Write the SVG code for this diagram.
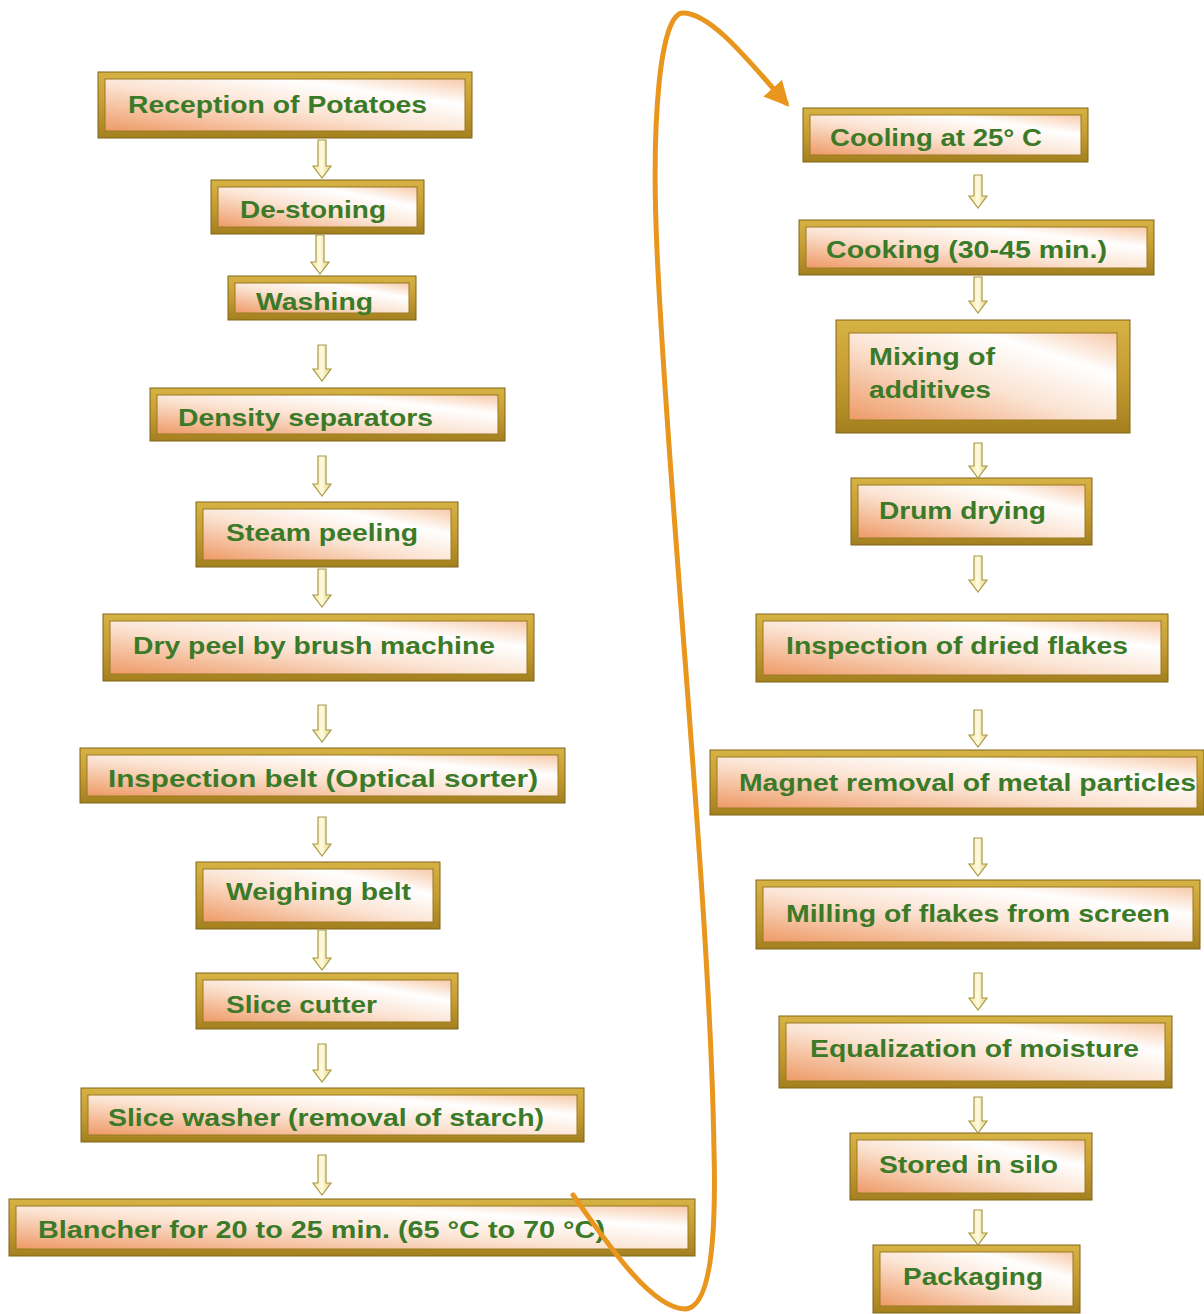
<svg xmlns="http://www.w3.org/2000/svg" xmlns:xlink="http://www.w3.org/1999/xlink" width="1204" height="1314" viewBox="0 0 1204 1314">
<style>
.frame{fill:url(#gold);stroke:#7E6418;stroke-width:1}
.inner{fill:url(#peach);stroke:#9A7A22;stroke-width:1}
.lbl{font-family:"Liberation Sans",Arial,sans-serif;font-weight:bold;font-size:24px;fill:#3A7A28}
.arr{fill:url(#arrfill);stroke:#A89A48;stroke-width:1.2}
.loop{fill:none;stroke:#E8961E;stroke-width:5;stroke-linecap:round}
</style>
<defs>
<linearGradient id="gold" x1="0" y1="0" x2="0" y2="1">
<stop offset="0" stop-color="#D6B244"/>
<stop offset="0.5" stop-color="#C69C32"/>
<stop offset="1" stop-color="#A3801F"/>
</linearGradient>
<linearGradient id="peach" x1="0" y1="1" x2="1" y2="0">
<stop offset="0" stop-color="#EE9A66"/>
<stop offset="0.45" stop-color="#FBE3D2"/>
<stop offset="0.75" stop-color="#FFFFFF"/>
<stop offset="1" stop-color="#F7C9A8"/>
</linearGradient>
<linearGradient id="arrfill" x1="0" y1="0" x2="1" y2="0">
<stop offset="0" stop-color="#F3E7A0"/>
<stop offset="0.5" stop-color="#FFFBE0"/>
<stop offset="1" stop-color="#E2D078"/>
</linearGradient>
<marker id="ohead" viewBox="0 0 10 10" refX="8" refY="5" markerWidth="5" markerHeight="5" orient="auto" markerUnits="strokeWidth">
<path d="M0,0 L10,5 L0,10 Z" fill="#E8961E"/>
</marker>
</defs>
<rect width="1204" height="1314" fill="#FFFFFF"/>

<g id="n-reception"><rect class="frame" x="98" y="72" width="374" height="66"/><rect class="inner" x="105" y="79" width="360" height="52"/><text class="lbl" x="128" y="113" textLength="299" lengthAdjust="spacingAndGlyphs">Reception of Potatoes</text></g>
<g id="n-destoning"><rect class="frame" x="211" y="180" width="213" height="54"/><rect class="inner" x="218" y="187" width="199" height="40"/><text class="lbl" x="240" y="218" textLength="146" lengthAdjust="spacingAndGlyphs">De-stoning</text></g>
<g id="n-washing"><rect class="frame" x="228" y="276" width="188" height="44"/><rect class="inner" x="235" y="283" width="174" height="30"/><text class="lbl" x="256" y="310" textLength="117" lengthAdjust="spacingAndGlyphs">Washing</text></g>
<g id="n-density"><rect class="frame" x="150" y="388" width="355" height="53"/><rect class="inner" x="157" y="395" width="341" height="39"/><text class="lbl" x="178" y="426" textLength="255" lengthAdjust="spacingAndGlyphs">Density separators</text></g>
<g id="n-steam"><rect class="frame" x="196" y="502" width="262" height="65"/><rect class="inner" x="203" y="509" width="248" height="51"/><text class="lbl" x="226" y="541" textLength="192" lengthAdjust="spacingAndGlyphs">Steam peeling</text></g>
<g id="n-drypeel"><rect class="frame" x="103" y="614" width="431" height="67"/><rect class="inner" x="110" y="621" width="417" height="53"/><text class="lbl" x="133" y="654" textLength="362" lengthAdjust="spacingAndGlyphs">Dry peel by brush machine</text></g>
<g id="n-inspbelt"><rect class="frame" x="80" y="748" width="485" height="55"/><rect class="inner" x="87" y="755" width="471" height="41"/><text class="lbl" x="108" y="787" textLength="430" lengthAdjust="spacingAndGlyphs">Inspection belt (Optical sorter)</text></g>
<g id="n-weighing"><rect class="frame" x="196" y="862" width="244" height="67"/><rect class="inner" x="203" y="869" width="230" height="53"/><text class="lbl" x="226" y="900" textLength="185" lengthAdjust="spacingAndGlyphs">Weighing belt</text></g>
<g id="n-slicecutter"><rect class="frame" x="196" y="973" width="262" height="56"/><rect class="inner" x="203" y="980" width="248" height="42"/><text class="lbl" x="226" y="1013" textLength="151" lengthAdjust="spacingAndGlyphs">Slice cutter</text></g>
<g id="n-slicewasher"><rect class="frame" x="81" y="1088" width="503" height="54"/><rect class="inner" x="88" y="1095" width="489" height="40"/><text class="lbl" x="108" y="1126" textLength="436" lengthAdjust="spacingAndGlyphs">Slice washer (removal of starch)</text></g>
<g id="n-blancher"><rect class="frame" x="9" y="1199" width="686" height="57"/><rect class="inner" x="16" y="1206" width="672" height="43"/><text class="lbl" x="38" y="1238" textLength="567" lengthAdjust="spacingAndGlyphs">Blancher for 20 to 25 min. (65 °C to 70 °C)</text></g>

<g id="n-cooling"><rect class="frame" x="803" y="108" width="285" height="54"/><rect class="inner" x="810" y="115" width="271" height="40"/><text class="lbl" x="830" y="146" textLength="212" lengthAdjust="spacingAndGlyphs">Cooling at 25° C</text></g>
<g id="n-cooking"><rect class="frame" x="799" y="220" width="355" height="55"/><rect class="inner" x="806" y="227" width="341" height="41"/><text class="lbl" x="826" y="258" textLength="281" lengthAdjust="spacingAndGlyphs">Cooking (30-45 min.)</text></g>
<g id="n-mixing"><rect class="frame" x="836" y="320" width="294" height="113"/><rect class="inner" x="849" y="333" width="268" height="87"/><text class="lbl" x="869" y="365" textLength="126" lengthAdjust="spacingAndGlyphs">Mixing of</text><text class="lbl" x="869" y="398" textLength="122" lengthAdjust="spacingAndGlyphs">additives</text></g>
<g id="n-drum"><rect class="frame" x="851" y="478" width="241" height="67"/><rect class="inner" x="858" y="485" width="227" height="53"/><text class="lbl" x="879" y="519" textLength="167" lengthAdjust="spacingAndGlyphs">Drum drying</text></g>
<g id="n-inspflakes"><rect class="frame" x="756" y="614" width="412" height="68"/><rect class="inner" x="763" y="621" width="398" height="54"/><text class="lbl" x="786" y="654" textLength="342" lengthAdjust="spacingAndGlyphs">Inspection of dried flakes</text></g>
<g id="n-magnet"><rect class="frame" x="710" y="750" width="494" height="65"/><rect class="inner" x="717" y="757" width="480" height="51"/><text class="lbl" x="739" y="791" textLength="457" lengthAdjust="spacingAndGlyphs">Magnet removal of metal particles</text></g>
<g id="n-milling"><rect class="frame" x="756" y="880" width="444" height="69"/><rect class="inner" x="763" y="887" width="430" height="55"/><text class="lbl" x="786" y="922" textLength="384" lengthAdjust="spacingAndGlyphs">Milling of flakes from screen</text></g>
<g id="n-equalization"><rect class="frame" x="779" y="1016" width="393" height="72"/><rect class="inner" x="786" y="1023" width="379" height="58"/><text class="lbl" x="810" y="1057" textLength="329" lengthAdjust="spacingAndGlyphs">Equalization of moisture</text></g>
<g id="n-silo"><rect class="frame" x="850" y="1133" width="242" height="67"/><rect class="inner" x="857" y="1140" width="228" height="53"/><text class="lbl" x="879" y="1173" textLength="179" lengthAdjust="spacingAndGlyphs">Stored in silo</text></g>
<g id="n-packaging"><rect class="frame" x="873" y="1245" width="207" height="68"/><rect class="inner" x="880" y="1252" width="193" height="54"/><text class="lbl" x="903" y="1285" textLength="140" lengthAdjust="spacingAndGlyphs">Packaging</text></g>

<g id="connectors">
<path class="loop" marker-end="url(#ohead)" d="M573,1195 C605,1240 650,1308 685,1309 C712,1308 716,1230 714,1150 C710,900 668,500 657,250 C651,120 660,13 683,13 C712,13 752,65 786,103"/>
<path class="arr" d="M318,140 H326 V166 H331 L322,178 L313,166 H318 Z"/>
<path class="arr" d="M316,235 H324 V262 H329 L320,274 L311,262 H316 Z"/>
<path class="arr" d="M318,345 H326 V369 H331 L322,381 L313,369 H318 Z"/>
<path class="arr" d="M318,456 H326 V484 H331 L322,496 L313,484 H318 Z"/>
<path class="arr" d="M318,569 H326 V595 H331 L322,607 L313,595 H318 Z"/>
<path class="arr" d="M318,705 H326 V730 H331 L322,742 L313,730 H318 Z"/>
<path class="arr" d="M318,817 H326 V844 H331 L322,856 L313,844 H318 Z"/>
<path class="arr" d="M318,930 H326 V958 H331 L322,970 L313,958 H318 Z"/>
<path class="arr" d="M318,1044 H326 V1070 H331 L322,1082 L313,1070 H318 Z"/>
<path class="arr" d="M318,1155 H326 V1183 H331 L322,1195 L313,1183 H318 Z"/>
<path class="arr" d="M974,175 H982 V196 H987 L978,208 L969,196 H974 Z"/>
<path class="arr" d="M974,277 H982 V301 H987 L978,313 L969,301 H974 Z"/>
<path class="arr" d="M974,443 H982 V466 H987 L978,478 L969,466 H974 Z"/>
<path class="arr" d="M974,556 H982 V580 H987 L978,592 L969,580 H974 Z"/>
<path class="arr" d="M974,710 H982 V735 H987 L978,747 L969,735 H974 Z"/>
<path class="arr" d="M974,838 H982 V864 H987 L978,876 L969,864 H974 Z"/>
<path class="arr" d="M974,973 H982 V998 H987 L978,1010 L969,998 H974 Z"/>
<path class="arr" d="M974,1097 H982 V1121 H987 L978,1133 L969,1121 H974 Z"/>
<path class="arr" d="M974,1210 H982 V1233 H987 L978,1245 L969,1233 H974 Z"/>
</g>
</svg>
